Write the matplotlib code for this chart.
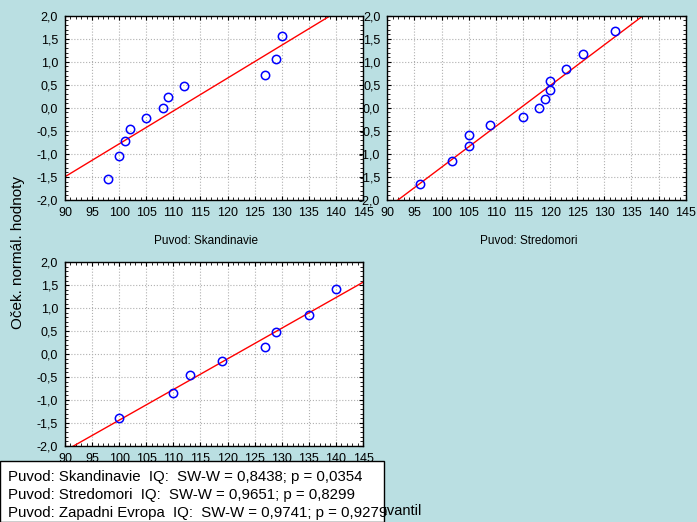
import numpy as np
import matplotlib.pyplot as plt
from matplotlib.ticker import FuncFormatter, MultipleLocator

# data (IQ vs expected normal score)
skand_iq = [98, 100, 101, 102, 105, 108, 109, 112, 127, 129, 130]
skand_z = [-1.55, -1.05, -0.71, -0.46, -0.22, 0.0, 0.23, 0.47, 0.72, 1.05, 1.56]

stred_iq = [96, 102, 105, 105, 109, 115, 118, 119, 120, 120, 123, 126, 132]
stred_z = [-1.65, -1.15, -0.83, -0.58, -0.38, -0.19, 0.0, 0.19, 0.39, 0.59, 0.85, 1.17, 1.66]

zapad_iq = [100, 110, 113, 119, 127, 129, 135, 140]
zapad_z = [-1.40, -0.84, -0.46, -0.15, 0.15, 0.47, 0.84, 1.41]

panel_titles = ['Puvod: Skandinavie', 'Puvod: Stredomori', None]
legend_lines = [
    'Puvod: Skandinavie  IQ:  SW-W = 0,8438; p = 0,0354',
    'Puvod: Stredomori  IQ:  SW-W = 0,9651; p = 0,8299',
    'Puvod: Zapadni Evropa  IQ:  SW-W = 0,9741; p = 0,9279',
]

plt.rcParams['font.family'] = ['Liberation Sans', 'DejaVu Sans']
bg = '#BADFE2'

fig = plt.figure(figsize=(6.97, 5.22), dpi=100, facecolor=bg)

W, H = 697, 522
boxes = [
    (65, 15.7, 298, 184.3),
    (387.3, 15.7, 298.4, 184.3),
    (65, 262.3, 298, 183.4),
]

comma = FuncFormatter(lambda v, p: f'{v:.1f}'.replace('.', ','))
datasets = [(skand_iq, skand_z), (stred_iq, stred_z), (zapad_iq, zapad_z)]

for i, ((x, z), (l, t, w, h)) in enumerate(zip(datasets, boxes)):
    ax = fig.add_axes([l / W, 1 - (t + h) / H, w / W, h / H])
    ax.set_facecolor('white')
    # fit line through the points
    k, q = np.polyfit(x, z, 1)
    xs = np.array([85, 150])
    ax.plot(xs, k * xs + q, color='red', lw=1, zorder=2)
    ax.plot(x, z, 'o', mfc='none', mec='#0000FF', mew=1.1, ms=6, zorder=3)
    ax.set_xlim(90, 145)
    ax.set_ylim(-2, 2)
    ax.xaxis.set_major_locator(MultipleLocator(5))
    ax.xaxis.set_minor_locator(MultipleLocator(1))
    ax.yaxis.set_major_locator(MultipleLocator(0.5))
    ax.yaxis.set_minor_locator(MultipleLocator(0.1))
    ax.yaxis.set_major_formatter(comma)
    ax.grid(True, which='major', color='#b0b0b0', ls=':', lw=0.8)
    ax.tick_params(which='both', direction='in', top=True, right=True,
                   labelsize=9, pad=5)
    ax.tick_params(which='major', length=3)
    ax.tick_params(which='minor', length=2)
    for s in ax.spines.values():
        s.set_linewidth(1)
    if panel_titles[i]:
        fig.text((l + w / 2 - 8) / W, 1 - 241 / H, panel_titles[i],
                 ha='center', va='center', fontsize=8.5)

fig.text(18 / W, 1 - 252 / H, 'Oček. normál. hodnoty', rotation=90,
         ha='center', va='center', fontsize=11)

fig.text(421 / W, 1 - 511 / H, 'Pozorovaný kvantil', ha='right',
         va='center', fontsize=10.5, zorder=1)

# statistics box in the lower left corner
box = plt.Rectangle((0, 0), 384 / W, 1 - 461 / H, transform=fig.transFigure,
                    facecolor='white', edgecolor='black', lw=1, zorder=5)
fig.add_artist(box)
for j, txt in enumerate(legend_lines):
    fig.text(8 / W, 1 - (477.5 + j * 18) / H, txt, ha='left', va='center',
             fontsize=10.8, zorder=6)

fig.savefig('out.png', dpi=100, facecolor=bg)
